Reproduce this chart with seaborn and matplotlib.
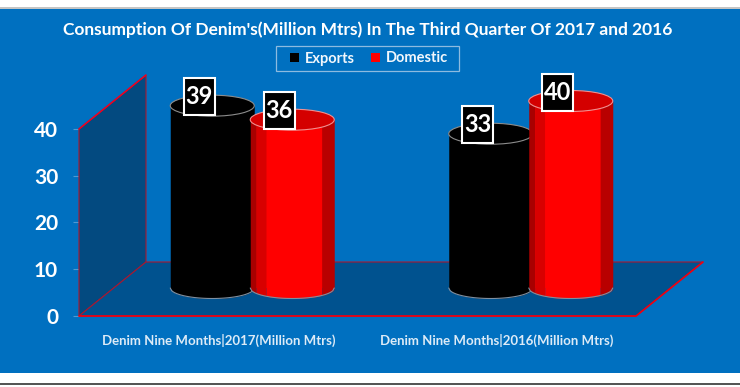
import numpy as np
import pandas as pd
import matplotlib
matplotlib.use('Agg')
import matplotlib.pyplot as plt
import seaborn as sns
from matplotlib.patches import Ellipse, Polygon, Rectangle
from matplotlib.transforms import Affine2D

# -----------------------------
# Data
# -----------------------------
categories = ['Denim Nine Months|2017(Million Mtrs)', 'Denim Nine Months|2016(Million Mtrs)']
exports = [39, 33]
domestic = [36, 40]
series_names = ['Exports', 'Domestic']
y_ticks = [0, 10, 20, 30, 40]
title = "Consumption Of Denim's(Million Mtrs) In The Third Quarter Of 2017 and 2016"

df = pd.DataFrame({
    'period': categories * 2,
    'series': [series_names[0]] * 2 + [series_names[1]] * 2,
    'value': exports + domestic,
})

W, H = 740, 387
BLUE = '#0070C0'

sns.set_theme(style='white')
plt.rcParams['font.family'] = ['Lato', 'DejaVu Sans']
plt.rcParams['font.weight'] = 'bold'

fig = plt.figure(figsize=(W / 100, H / 100), dpi=100, facecolor='white')

# page frame around the picture, kept behind the axes
fig.patches.append(Rectangle((0, 1 - 373 / H), 1, 364 / H, transform=fig.transFigure, fc=BLUE, ec='none', zorder=-2))
fig.patches.append(Rectangle((0, 1 - 9 / H), 1, 1.5 / H, transform=fig.transFigure, fc='#c4c4c4', ec='none', zorder=-2))
fig.patches.append(Rectangle((0, 1 - 385 / H), 1, 2 / H, transform=fig.transFigure, fc='#555555', ec='none', zorder=-2))

# -----------------------------
# Front plane axes (ticks, labels, walls)
# -----------------------------
left, right, y0_px, y40_px = 79, 636, 316, 129
rect = [left / W, 1 - y0_px / H, (right - left) / W, (y0_px - y40_px) / H]
ax = fig.add_axes(rect, facecolor='none')
ax.set_xlim(-0.5, 1.5)
ax.set_ylim(0, 40)
sns.despine(ax=ax, left=True, bottom=True)

px_x = 2.0 / (right - left)
px_y = 40.0 / (y0_px - y40_px)
dx, dy = 67 * px_x, 54 * px_y

wall = [(-0.5, 0), (-0.5, 40), (-0.5 + dx, 40 + dy), (-0.5 + dx, dy)]
floor = [(-0.5, 0), (-0.5 + dx, dy), (1.5 + dx, dy), (1.5, 0)]
ax.add_patch(Polygon(wall, closed=True, fc='#034A80', ec='#A81830', lw=0.8, clip_on=False))
ax.add_patch(Polygon(floor, closed=True, fc='#00528F', ec='#A81830', lw=0.8, clip_on=False))
ax.plot([-0.5, -0.5 + dx], [40, 40 + dy], color='#F00020', lw=1.1, clip_on=False)
ax.plot([-0.5, 1.5, 1.5 + dx], [0, 0, dy], color='#F00010', lw=1.2, clip_on=False)

ax.set_yticks(y_ticks)
ax.set_xticks([0, 1])
ax.set_xticklabels(categories, fontsize=9.55, color='#DDEBF7', fontweight='bold')
ax.tick_params(axis='y', length=4.5, width=0.8, color='#4F9AD3', pad=10.5, labelsize=15, labelcolor='white', left=True)
ax.tick_params(axis='x', length=0, pad=13)

# -----------------------------
# Bars sit half way into the depth of the chart
# -----------------------------
shift_x, shift_y = 34, 28
bar_ax = fig.add_axes([rect[0] + shift_x / W, rect[1] + shift_y / H, rect[2], rect[3]], facecolor='none')
sns.barplot(data=df, x='period', y='value', hue='series', palette=['black', '#FF0000'],
            width=0.5745, gap=0, saturation=1, edgecolor='none', ax=bar_ax)
handles, labels = bar_ax.get_legend_handles_labels()
bar_ax.get_legend().remove()
bar_ax.set_xlim(-0.5, 1.5)
bar_ax.set_ylim(0, 40)
bar_ax.axis('off')

cyl_w = 84 * px_x
cap_h = 21 * px_y

red_bands = [(0.00, 0.07, '#A80000'), (0.07, 0.19, '#D80000'), (0.19, 0.85, '#FF0000'), (0.85, 1.00, '#B80000')]
black_bands = [(0.0, 1.0, '#000000')]
style = {
    0: dict(bands=black_bands, cap='#000000', line='#8C8C8C', z=3),
    1: dict(bands=red_bands, cap='#D40000', line='#F09090', z=4),
}


def draw_cylinder(cx, h, st):
    x0 = cx - cyl_w / 2
    for u0, u1, col in st['bands']:
        xs = np.linspace(x0 + u0 * cyl_w, x0 + u1 * cyl_w, 30)
        u = (xs - cx) / (cyl_w / 2)
        bottom = -cap_h / 2 * np.sqrt(np.clip(1 - u ** 2, 0, 1))
        bar_ax.fill_between(xs, bottom, h, color=col, lw=0, zorder=st['z'], clip_on=False)
    xs = np.linspace(x0, x0 + cyl_w, 60)
    u = (xs - cx) / (cyl_w / 2)
    bar_ax.plot(xs, -cap_h / 2 * np.sqrt(np.clip(1 - u ** 2, 0, 1)), color='#7F8FA0', lw=0.8,
                zorder=st['z'], clip_on=False)
    bar_ax.add_patch(Ellipse((cx, h), cyl_w, cap_h, fc=st['cap'], ec=st['line'], lw=0.8,
                             zorder=st['z'], clip_on=False))


def draw_label(cx, h):
    # tall black tag, sized in pixels and anchored on the top of the bar
    anchor = Affine2D().translate(*bar_ax.transData.transform((cx, h)))
    bar_ax.add_patch(Rectangle((-28.5, -9.5), 31, 37, transform=anchor, fc='black', ec='white', lw=1.5,
                               zorder=9, clip_on=False))
    bar_ax.annotate(f'{h:.0f}', xy=(cx, h), xytext=(-13 * 0.72, 9 * 0.72), textcoords='offset points',
                    ha='center', va='center', color='white', fontsize=17, fontweight='bold', zorder=10)


for i, container in enumerate(bar_ax.containers):
    for bar in container:
        cx = bar.get_x() + bar.get_width() / 2
        h = bar.get_height()
        draw_cylinder(cx, h, style[i])
        draw_label(cx, h)

# -----------------------------
# Title and legend
# -----------------------------
fig.text(368 / W, 1 - 30 / H, title, ha='center', va='center', color='white', fontsize=12.5, fontweight='bold')

fig.patches.append(Rectangle((276 / W, 1 - 71 / H), 183 / W, 25 / H, transform=fig.transFigure,
                             fc='none', ec='#8DBBE0', lw=0.9, zorder=-1))
leg = fig.legend(handles, labels, loc='center', bbox_to_anchor=(369 / W, 1 - 58.5 / H), ncol=2,
                 fontsize=10.5, frameon=False, handlelength=0.62, handleheight=0.62,
                 handletextpad=0.38, columnspacing=1.16, borderpad=0, labelcolor='#F2F7FC')

plt.savefig('out.png', dpi=100, facecolor=fig.get_facecolor())
